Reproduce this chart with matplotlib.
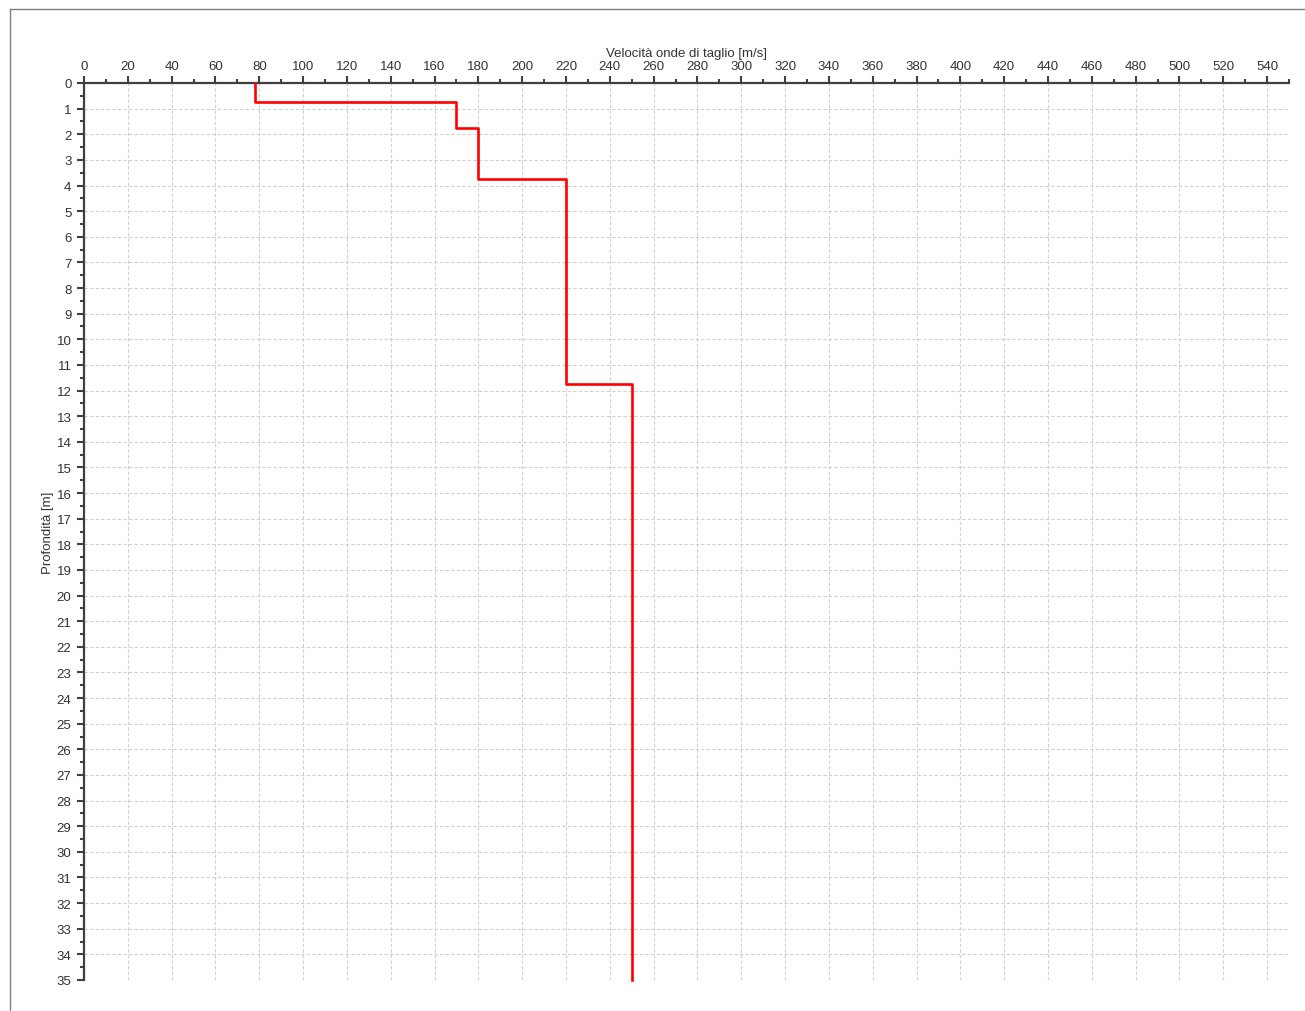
import numpy as np
import matplotlib.pyplot as plt
from matplotlib.ticker import MultipleLocator
from matplotlib.lines import Line2D

# profilo Vs a strati
vs = [78, 170, 180, 220, 250]
depth_top = [0, 0.75, 1.75, 3.75, 11.75]
depth_bot = [0.75, 1.75, 3.75, 11.75, 35]

plt.rcParams['font.family'] = ['Liberation Sans', 'DejaVu Sans']

fig = plt.figure(figsize=(13.05, 10.12), dpi=100, facecolor='white')
ax = fig.add_axes([84/1305, 1-981/1012, (1289-84)/1305, (981-84)/1012])

x = np.repeat(vs, 2)
y = np.column_stack([depth_top, depth_bot]).ravel()
ax.plot(x, y, color='red', linewidth=1.9, clip_on=False, zorder=3)

ax.set_xlim(0, 550)
ax.set_ylim(35, 0)
ax.xaxis.tick_top()
ax.xaxis.set_label_position('top')
ax.xaxis.set_major_locator(MultipleLocator(20))
ax.xaxis.set_minor_locator(MultipleLocator(10))
ax.yaxis.set_major_locator(MultipleLocator(1))
ax.yaxis.set_minor_locator(MultipleLocator(0.5))

for s in ['right', 'bottom']:
    ax.spines[s].set_visible(False)
for s in ['top', 'left']:
    ax.spines[s].set_color('#404040')
    ax.spines[s].set_linewidth(1.6)

ax.tick_params(which='major', length=5, width=1.5, color='#404040',
               labelsize=9.5, labelcolor='#333333')
ax.tick_params(which='minor', length=3, width=1.5, color='#404040')
ax.tick_params(axis='x', pad=3)
ax.tick_params(axis='y', pad=4)

ax.grid(True, which='major', linestyle=(0, (3, 2)), color='#d0d0d0', linewidth=0.8)
ax.set_axisbelow(True)

ax.set_xlabel('Velocità onde di taglio [m/s]', fontsize=9.5, color='#333333', labelpad=3)
ax.set_ylabel('Profondità [m]', fontsize=9.5, color='#333333', labelpad=2)

# cornice esterna
fig.add_artist(Line2D([10/1305, 1], [1-10/1012, 1-10/1012], color='#808080', linewidth=1))
fig.add_artist(Line2D([10/1305, 10/1305], [0, 1-10/1012], color='#808080', linewidth=1))

fig.savefig('out.png', dpi=100, facecolor='white')
